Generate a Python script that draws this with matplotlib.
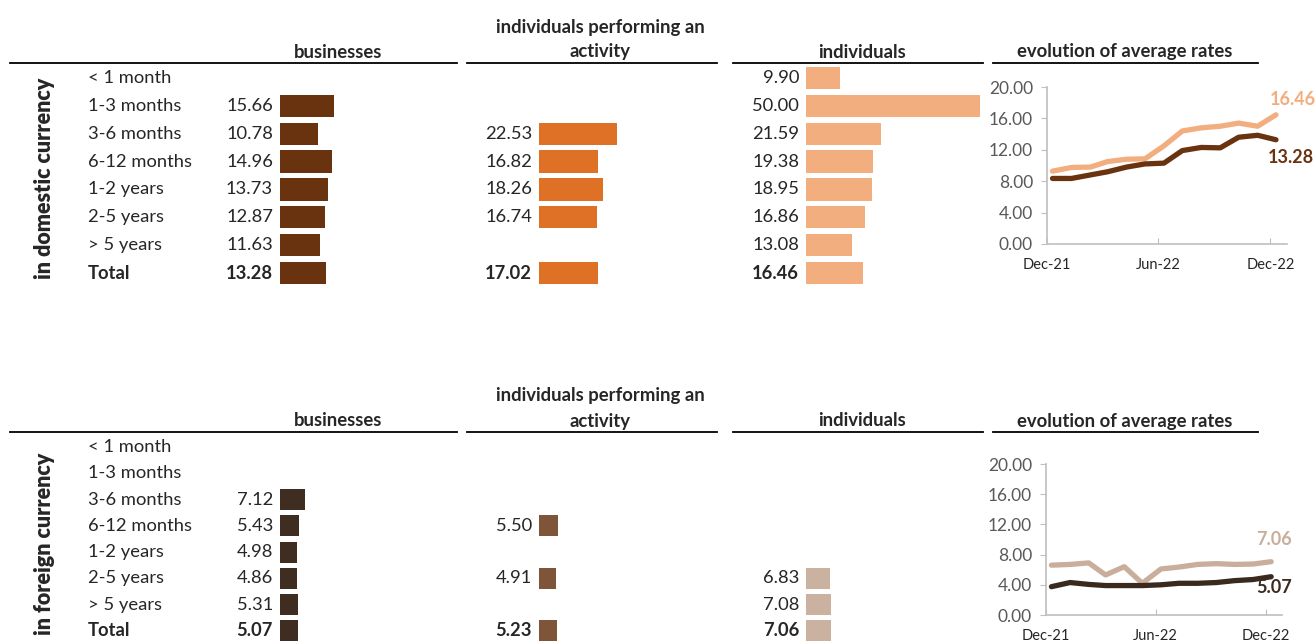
import matplotlib
matplotlib.use("Agg")
import matplotlib.pyplot as plt
import matplotlib.transforms as mtrans
from matplotlib.lines import Line2D
import pandas as pd

plt.rcParams['font.family'] = ['Lato', 'DejaVu Sans']

# ---- data -------------------------------------------------------------
maturities = ["< 1 month", "1-3 months", "3-6 months", "6-12 months",
              "1-2 years", "2-5 years", "> 5 years", "Total"]

dom_businesses = [None, 15.66, 10.78, 14.96, 13.73, 12.87, 11.63, 13.28]
dom_activity = [None, None, 22.53, 16.82, 18.26, 16.74, None, 17.02]
dom_individuals = [9.90, 50.00, 21.59, 19.38, 18.95, 16.86, 13.08, 16.46]

fx_businesses = [None, None, 7.12, 5.43, 4.98, 4.86, 5.31, 5.07]
fx_activity = [None, None, None, 5.50, None, 4.91, None, 5.23]
fx_individuals = [None, None, None, None, None, 6.83, 7.08, 7.06]

# monthly average rates, Dec-21 .. Dec-22
months = pd.date_range("2021-12-01", periods=13, freq="MS") + pd.Timedelta(days=9)
dom_rate_businesses = [8.35, 8.35, 8.8, 9.2, 9.8, 10.2, 10.3, 11.9, 12.3, 12.25, 13.6, 13.85, 13.28]
dom_rate_individuals = [9.28, 9.75, 9.8, 10.5, 10.8, 10.85, 12.5, 14.4, 14.8, 15.0, 15.4, 15.0, 16.46]
fx_rate_businesses = [3.75, 4.3, 4.05, 3.9, 3.9, 3.9, 4.0, 4.2, 4.2, 4.3, 4.55, 4.7, 5.07]
fx_rate_individuals = [6.6, 6.7, 6.9, 5.3, 6.4, 4.2, 6.1, 6.35, 6.7, 6.8, 6.7, 6.75, 7.06]

tick_dates = ["2021-12-01", "2022-06-01", "2022-12-01"]
tick_labels = ["Dec-21", "Jun-22", "Dec-22"]

# ---- layout -----------------------------------------------------------
W, H = 1315, 642
fig = plt.figure(figsize=(W / 100, H / 100), dpi=100)
TXT = "#262626"
PX_PER_UNIT = 3.48


def px_axes(x0, y0, x1, y1):
    # box given in image pixels, origin top-left
    return fig.add_axes([x0 / W, 1 - y1 / H, (x1 - x0) / W, (y1 - y0) / H])


def rule(x0, x1, y):
    fig.add_artist(Line2D([x0 / W, x1 / W], [1 - y / H, 1 - y / H],
                          color="black", lw=1.3))


def bar_panel(x0, ytop, ybot, values, color, bar_h):
    ax = px_axes(x0, ytop, x0 + 50 * PX_PER_UNIT, ybot)
    ax.set_xlim(0, 50)
    ax.set_ylim(len(maturities) - 0.5, -0.5)
    ax.axis("off")
    for i, v in enumerate(values):
        if v is None:
            continue
        ax.barh(i, v, height=bar_h, color=color, linewidth=0)
        bold = maturities[i] == "Total"
        ax.annotate(f"{v:.2f}", (0, i), xytext=(-5, 0), textcoords="offset points",
                    ha="right", va="center", fontsize=13.2, color=TXT,
                    fontweight="bold" if bold else "normal")
    return ax


def section(ytop, ybot, side_label, side_y, head_y, series, colors, bar_h):
    # header rules and titles
    rule(10, 457, head_y)
    rule(467, 717, head_y)
    rule(733, 983, head_y)
    rule(993, 1258, head_y)
    hy = 1 - (head_y - 11) / H
    hs = 13.3
    fig.text(338 / W, hy, "businesses", ha="center", va="center",
             fontsize=hs, fontweight="bold", color=TXT)
    fig.text(600 / W, hy, "activity", ha="center", va="center",
             fontsize=hs, fontweight="bold", color=TXT)
    fig.text(600 / W, 1 - (head_y - 36) / H, "individuals performing an", ha="center",
             va="center", fontsize=hs, fontweight="bold", color=TXT)
    fig.text(862 / W, hy, "individuals", ha="center", va="center",
             fontsize=hs, fontweight="bold", color=TXT)
    fig.text(1125 / W, hy, "evolution of average rates", ha="center", va="center",
             fontsize=hs, fontweight="bold", color=TXT)
    fig.text(45 / W, 1 - side_y / H, side_label, rotation=90, ha="center",
             va="center", fontsize=15.5, fontweight="heavy", color=TXT)

    ax_b = bar_panel(280, ytop, ybot, series[0], colors[0], bar_h)
    bar_panel(539, ytop, ybot, series[1], colors[1], bar_h)
    bar_panel(806, ytop, ybot, series[2], colors[2], bar_h)

    tr = mtrans.blended_transform_factory(fig.transFigure, ax_b.transData)
    for i, name in enumerate(maturities):
        fig.text(88 / W, i, name, transform=tr, ha="left", va="center",
                 fontsize=13.2, color=TXT,
                 fontweight="bold" if name == "Total" else "normal")


def rate_panel(box, dark, light, c_dark, c_light, lab_dark, lab_light):
    ax = px_axes(*box)
    ax.plot(months, light, color=c_light, lw=3.8, solid_capstyle="round")
    ax.plot(months, dark, color=c_dark, lw=3.8, solid_capstyle="round")
    ax.set_ylim(0, 20)
    ax.set_xlim(pd.Timestamp("2021-12-01"), pd.Timestamp("2022-12-28"))
    ax.set_yticks([0, 4, 8, 12, 16, 20])
    ax.set_yticklabels([f"{t:.2f}" for t in [0, 4, 8, 12, 16, 20]])
    ax.set_xticks(pd.to_datetime(tick_dates))
    ax.set_xticklabels(tick_labels)
    for s in ["top", "right"]:
        ax.spines[s].set_visible(False)
    for s in ["left", "bottom"]:
        ax.spines[s].set_color("#BFBFBF")
        ax.spines[s].set_linewidth(1.2)
    ax.tick_params(axis="y", colors="#BFBFBF", labelcolor="#595959",
                   labelsize=12.5, length=4, pad=6)
    ax.tick_params(axis="x", colors="#BFBFBF", labelcolor=TXT,
                   labelsize=10.5, direction="in", length=4, pad=10)
    ax.patch.set_alpha(0)
    ax.annotate(f"{light[-1]:.2f}", (months[-1], light[-1]), xytext=lab_light,
                textcoords="offset points", ha="center", va="center",
                fontsize=13, fontweight="bold", color=c_light)
    ax.annotate(f"{dark[-1]:.2f}", (months[-1], dark[-1]), xytext=lab_dark,
                textcoords="offset points", ha="center", va="center",
                fontsize=13, fontweight="bold", color=c_dark)


# domestic currency
section(64, 287, "in domestic currency", 178, 63,
        [dom_businesses, dom_activity, dom_individuals],
        ["#6A3310", "#DF7126", "#F2AE7E"], 0.8)
rate_panel((1047, 87, 1287, 244), dom_rate_businesses, dom_rate_individuals,
           "#6A3310", "#F2AE7E", (11, -13), (12, 11))

# foreign currency
section(434, 644, "in foreign currency", 544, 432,
        [fx_businesses, fx_activity, fx_individuals],
        ["#3E2D20", "#7F5539", "#CBB19F"], 0.8)
rate_panel((1046, 464, 1282, 615), fx_rate_businesses, fx_rate_individuals,
           "#3A2A1E", "#C9AE9B", (2, -8), (2, 16))

fig.savefig("out.png", dpi=100)
